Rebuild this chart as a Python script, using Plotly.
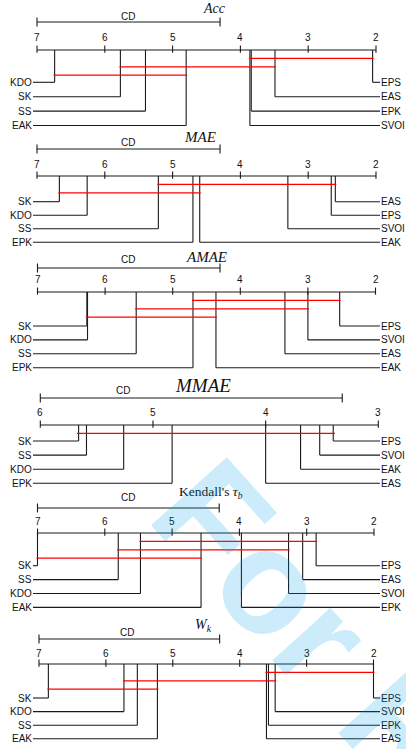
import plotly.graph_objects as go

# ------------------------------------------------------------------ data
panel_titles = [
    "<i>Acc</i>",
    "<i>MAE</i>",
    "<i>AMAE</i>",
    "<i>MMAE</i>",
    "Kendall's <i>τ</i><sub><i>b</i></sub>",
    "<i>W</i><sub><i>k</i></sub>",
]

# rank axis extent per panel (low, high)
rank_low = [2, 2, 2, 3, 2, 2]
rank_high = [7, 7, 7, 6, 7, 7]

# critical difference
cd_values = [2.70, 2.70, 2.70, 2.68, 2.70, 2.70]

acc_methods = ["KDO", "SK", "SS", "EAK", "SVOI", "EPK", "EAS", "EPS"]
acc_ranks = [6.74, 5.77, 5.40, 4.80, 3.86, 3.84, 3.49, 2.05]
acc_cliques = [("SVOI", "EPS"), ("SK", "EAS"), ("KDO", "EAK")]

mae_methods = ["SK", "KDO", "SS", "EPK", "EAK", "SVOI", "EPS", "EAS"]
mae_ranks = [6.67, 6.26, 5.21, 4.70, 4.60, 3.30, 2.66, 2.60]
mae_cliques = [("SS", "EAS"), ("SK", "EAK")]

amae_methods = ["SK", "KDO", "SS", "EPK", "EAK", "EAS", "SVOI", "EPS"]
amae_ranks = [6.27, 6.26, 5.54, 4.70, 4.36, 3.34, 3.00, 2.53]
amae_cliques = [("EPK", "EPS"), ("SS", "SVOI"), ("SK", "EAK")]

mmae_methods = ["SK", "SS", "KDO", "EPK", "EAS", "EAK", "SVOI", "EPS"]
mmae_ranks = [5.66, 5.59, 5.26, 4.83, 4.00, 3.69, 3.52, 3.40]
mmae_cliques = [("SK", "EPS")]

tau_methods = ["SK", "SS", "KDO", "EAK", "EPK", "SVOI", "EAS", "EPS"]
tau_ranks = [7.00, 5.80, 5.47, 4.57, 3.97, 3.27, 3.06, 2.86]
tau_cliques = [("KDO", "EPS"), ("SS", "SVOI"), ("SK", "EAK")]

wk_methods = ["SK", "KDO", "SS", "EAK", "EAS", "EPK", "SVOI", "EPS"]
wk_ranks = [6.86, 5.73, 5.53, 5.23, 3.60, 3.57, 3.47, 2.00]
wk_cliques = [("EAS", "EPS"), ("KDO", "SVOI"), ("SK", "EAK")]

all_methods = [acc_methods, mae_methods, amae_methods, mmae_methods, tau_methods, wk_methods]
all_ranks = [acc_ranks, mae_ranks, amae_ranks, mmae_ranks, tau_ranks, wk_ranks]
all_cliques = [acc_cliques, mae_cliques, amae_cliques, mmae_cliques, tau_cliques, wk_cliques]

# ------------------------------------------------------------------ layout constants (pixels)
W, H = 406, 749
axis_px_left = [37, 37, 37.5, 40.3, 37.5, 39]
axis_px_right = [376, 376, 375.5, 378.3, 374, 373.5]
axis_y = [50, 176, 292, 425, 533, 664]
title_dy = [-42, -39, -35, -40, -41, -39]
title_px = [214, 200, 206, 203, 211, 203]
title_size = [14, 15, 15, 19, 13.5, 14]
cd_label_dy = [-34, -34, -33, -35, -36, -32]
cd_label_px = [128, 128, 128, 123, 128, 127]
cd_bar_dy = [-28, -27, -24, -27, -25, -25]
tick_label_dy = [-13, -12, -13, -13, -11.5, -11]
first_row_dy = [32.3, 25.7, 34, 16, 32.7, 34]
row_gap = [14.4, 13.5, 13.9, 14.1, 13.9, 13.6]
clique_gap = 8.4
tick_half = 4.5
label_left_px = 33
label_right_px = 380

LINE = "#1a1a1a"
RED = "#ff0000"
FONT = dict(family="Liberation Sans, Arial, sans-serif", size=10, color="#111111")
SERIF = "Liberation Serif, Times New Roman, serif"

fig = go.Figure()
annotations = []
layout_axes = {}

for i in range(6):
    xname = "x" if i == 0 else f"x{i + 1}"
    xkey = "xaxis" if i == 0 else f"xaxis{i + 1}"
    lo, hi = rank_low[i], rank_high[i]
    scale = (axis_px_right[i] - axis_px_left[i]) / (hi - lo)
    pl = axis_px_left[i]

    def px2r(px, hi=hi, pl=pl, scale=scale):
        return hi - (px - pl) / scale

    ax = dict(range=[px2r(0), px2r(W)], domain=[0, 1], visible=False,
              fixedrange=True, anchor="y")
    if i > 0:
        ax["overlaying"] = "x"
    layout_axes[xkey] = ax

    ay = axis_y[i]
    bx, by = [], []

    def seg(x0, y0, x1, y1):
        bx.extend([x0, x1, None])
        by.extend([y0, y1, None])

    # main axis with ticks
    seg(hi, ay, lo, ay)
    for t in range(lo, hi + 1):
        seg(t, ay - tick_half, t, ay + tick_half * 0.6)
        annotations.append(dict(x=t, y=ay + tick_label_dy[i], xref=xname, yref="y",
                                text=str(t), showarrow=False, font=FONT,
                                xanchor="center", yanchor="middle"))

    # CD bar
    cd = cd_values[i]
    cy = ay + cd_bar_dy[i]
    seg(hi, cy, hi - cd, cy)
    seg(hi, cy - tick_half, hi, cy + tick_half)
    seg(hi - cd, cy - tick_half, hi - cd, cy + tick_half)
    annotations.append(dict(x=px2r(cd_label_px[i]), y=ay + cd_label_dy[i], xref=xname, yref="y",
                            text="CD", showarrow=False, font=FONT,
                            xanchor="center", yanchor="middle"))

    # title
    annotations.append(dict(x=px2r(title_px[i]), y=ay + title_dy[i], xref=xname, yref="y",
                            text=panel_titles[i], showarrow=False,
                            font=dict(family=SERIF, size=title_size[i], color="#111111"),
                            xanchor="center", yanchor="middle"))

    # methods
    pairs = sorted(zip(all_methods[i], all_ranks[i]), key=lambda p: -p[1])
    half = len(pairs) // 2
    left = pairs[:half]
    right = sorted(pairs[half:], key=lambda p: p[1])
    xl = px2r(label_left_px)
    xr = px2r(label_right_px)
    for j, (name, r) in enumerate(left):
        yr = ay + first_row_dy[i] + j * row_gap[i]
        seg(r, ay, r, yr)
        seg(r, yr, xl, yr)
        annotations.append(dict(x=xl, y=yr, xref=xname, yref="y", text=name,
                                showarrow=False, font=FONT, xanchor="right",
                                yanchor="middle", borderpad=0))
    for j, (name, r) in enumerate(right):
        yr = ay + first_row_dy[i] + j * row_gap[i]
        seg(r, ay, r, yr)
        seg(r, yr, xr, yr)
        annotations.append(dict(x=xr, y=yr, xref=xname, yref="y", text=name,
                                showarrow=False, font=FONT, xanchor="left",
                                yanchor="middle", borderpad=0))

    fig.add_trace(go.Scatter(x=bx, y=by, mode="lines", xaxis=xname, yaxis="y",
                             line=dict(color=LINE, width=1.1), hoverinfo="skip",
                             showlegend=False))

    # cliques
    rank_of = dict(zip(all_methods[i], all_ranks[i]))
    rx, ry = [], []
    for k, (a, b) in enumerate(all_cliques[i]):
        ra, rb = rank_of[a], rank_of[b]
        yk = ay + clique_gap * (k + 1)
        rx.extend([max(ra, rb) + 0.015, min(ra, rb) - 0.015, None])
        ry.extend([yk, yk, None])
    fig.add_trace(go.Scatter(x=rx, y=ry, mode="lines", xaxis=xname, yaxis="y",
                             line=dict(color=RED, width=1.3), hoverinfo="skip",
                             showlegend=False))

# watermark (anchored by its rotated box's left/top so the start stays fixed)
annotations.append(dict(x=119 / W, y=1 - 426 / H, xref="paper", yref="paper",
                        text="<b>For Review</b>", showarrow=False, textangle=48,
                        font=dict(family="Liberation Sans, Arial, sans-serif", size=148,
                                  color="rgba(0,160,235,0.2)"),
                        xanchor="left", yanchor="top"))

fig.update_layout(
    width=W, height=H,
    margin=dict(l=0, r=0, t=0, b=0),
    paper_bgcolor="white", plot_bgcolor="white",
    yaxis=dict(range=[H, 0], domain=[0, 1], visible=False, fixedrange=True),
    annotations=annotations,
    showlegend=False,
    **layout_axes,
)

fig.write_html("out.html", config={"displayModeBar": False},
               post_script="document.body.style.margin='0';document.body.style.overflow='hidden';")
